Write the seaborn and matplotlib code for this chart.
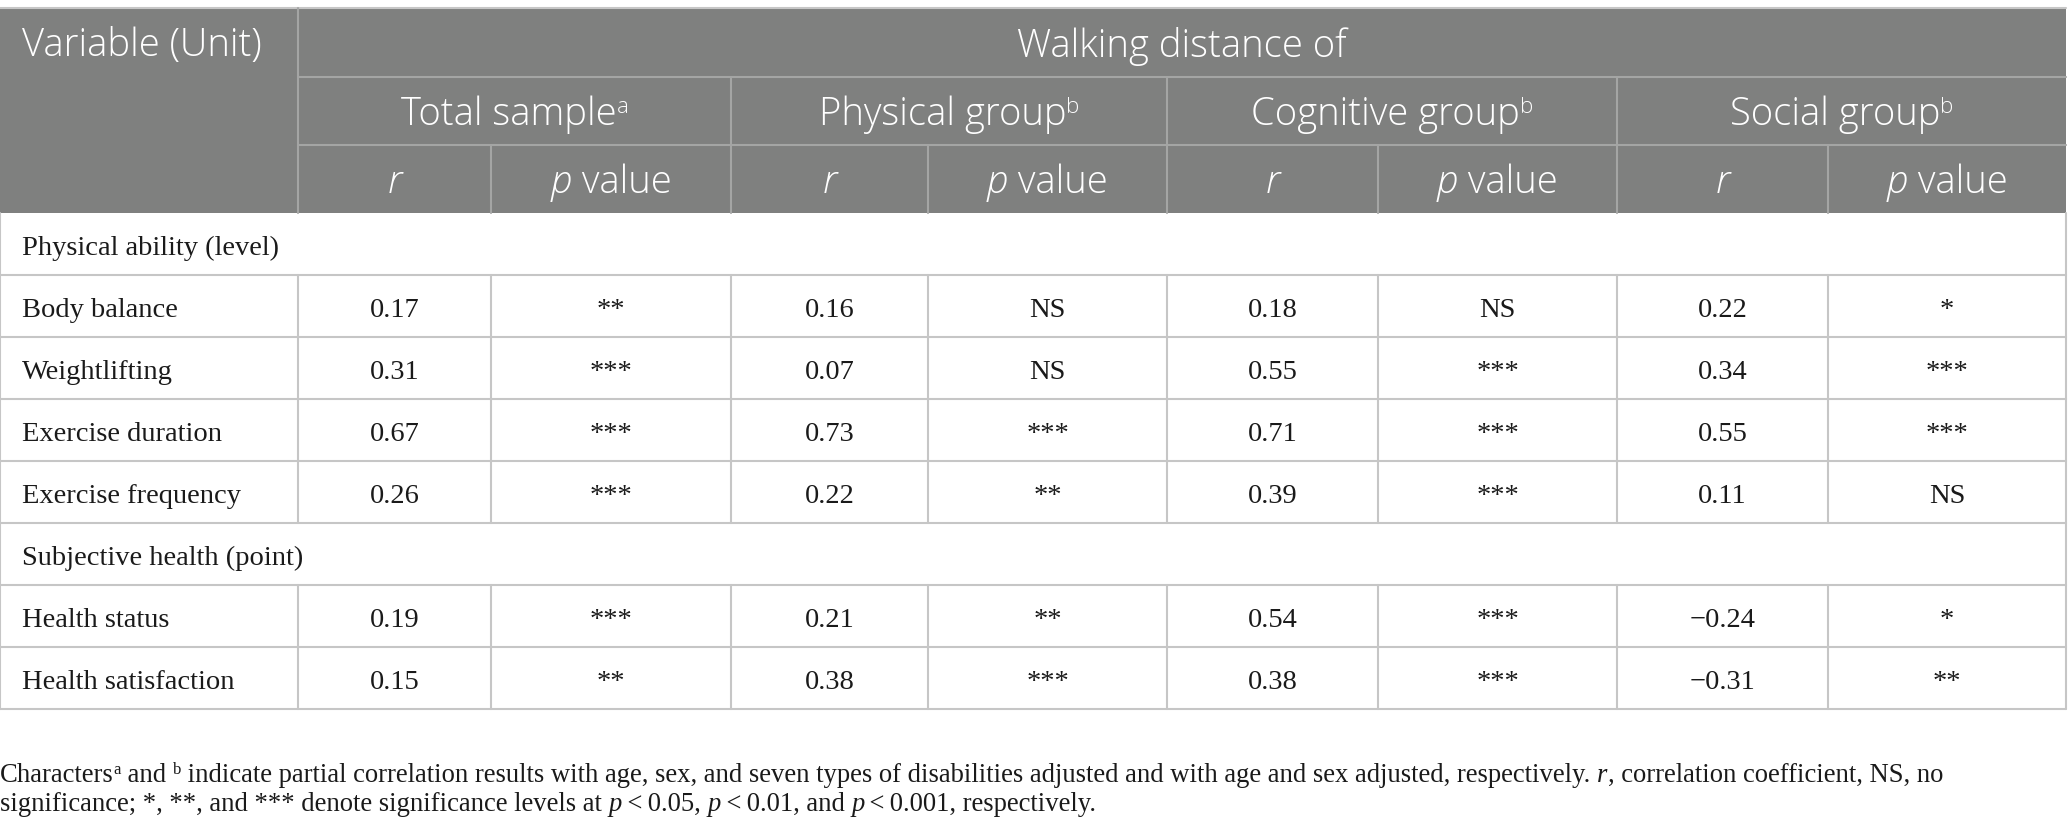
import matplotlib
matplotlib.use("Agg")
import matplotlib.pyplot as plt
import seaborn as sns
from matplotlib.patches import Rectangle

# ---------------- data ----------------
sections = ["Physical ability (level)", "Subjective health (point)"]
vars_physical = ["Body balance", "Weightlifting", "Exercise duration", "Exercise frequency"]
vars_subjective = ["Health status", "Health satisfaction"]
variables = vars_physical + vars_subjective

groups = ["Total sample", "Physical group", "Cognitive group", "Social group"]
group_sup = ["a", "b", "b", "b"]

total_r = [0.17, 0.31, 0.67, 0.26, 0.19, 0.15]
total_p = ["**", "***", "***", "***", "***", "**"]
phys_r = [0.16, 0.07, 0.73, 0.22, 0.21, 0.38]
phys_p = ["NS", "NS", "***", "**", "**", "***"]
cog_r = [0.18, 0.55, 0.71, 0.39, 0.54, 0.38]
cog_p = ["NS", "***", "***", "***", "***", "***"]
soc_r = [0.22, 0.34, 0.55, 0.11, -0.24, -0.31]
soc_p = ["*", "***", "***", "NS", "*", "**"]

r_cols = [total_r, phys_r, cog_r, soc_r]
p_cols = [total_p, phys_p, cog_p, soc_p]

# ---------------- style ----------------
sns.set_theme(style="white")
SERIF = ["Liberation Serif", "DejaVu Serif"]
SANS = ["Open Sans", "DejaVu Sans"]
plt.rcParams["font.family"] = SERIF

HEADER_BG = "#7f807f"
HEADER_LINE = "#a4a5a4"
BODY_LINE = "#c6c6c6"
TEXT = "#1a1a1a"

W, H = 2068, 830
fig = plt.figure(figsize=(W / 100, H / 100), dpi=100)
ax = fig.add_axes([0, 0, 1, 1])
ax.set_xlim(0, W)
ax.set_ylim(H, 0)
ax.axis("off")
renderer = fig.canvas.get_renderer()

# layout (pixels)
x_edges = [0, 298, 491, 731, 928, 1167, 1378, 1617, 1828, 2066]
y_top = 8
y_h1, y_h2, y_h3 = 77, 145, 213
row_h = 62
LW = 1.5

HDR = dict(family=SANS, fontsize=27.5, color="white", fontweight="light")
HDR_IT = dict(family=SANS, fontsize=27.5, color="white", style="italic", fontweight="light")
HDR_SUP = dict(family=SANS, fontsize=16, color="white", fontweight="light")
BODY = dict(family=SERIF, fontsize=20.5, color=TEXT)
FOOT = dict(family=SERIF, fontsize=19.2, color=TEXT)
FOOT_IT = dict(family=SERIF, fontsize=19.2, color=TEXT, style="italic")
FOOT_SUP = dict(family=SERIF, fontsize=12, color=TEXT)


def width(s, props):
    t1 = ax.text(0, 0, "|" + s + "|", **props)
    t2 = ax.text(0, 0, "||", **props)
    w = t1.get_window_extent(renderer).width - t2.get_window_extent(renderer).width
    t1.remove(); t2.remove()
    return w


def runs(x, y, parts, align="left"):
    """parts: list of (text, props, raise_px)"""
    ws = [width(s, p) for s, p, _ in parts]
    total = sum(ws)
    if align == "center":
        x = x - total / 2
    for (s, p, dy), w in zip(parts, ws):
        ax.text(x, y - dy, s, ha="left", va="baseline", **p)
        x += w


# ---------------- header ----------------
ax.add_patch(Rectangle((0, y_top), x_edges[-1], y_h3 - y_top, facecolor=HEADER_BG,
                       edgecolor="none", zorder=0))
ax.plot([0, x_edges[-1]], [y_top, y_top], color=BODY_LINE, lw=LW)
for yy in (y_h1, y_h2):
    ax.plot([x_edges[1], x_edges[-1]], [yy, yy], color=HEADER_LINE, lw=LW)
ax.plot([x_edges[1]] * 2, [y_top, y_h3], color=HEADER_LINE, lw=LW)
for xi in (3, 5, 7):
    ax.plot([x_edges[xi]] * 2, [y_h1, y_h3], color=HEADER_LINE, lw=LW)
for xi in (2, 4, 6, 8):
    ax.plot([x_edges[xi]] * 2, [y_h2, y_h3], color=HEADER_LINE, lw=LW)

ax.text(22, (y_top + y_h1) / 2 + 14, "Variable (Unit)", ha="left", va="baseline", **HDR)
ax.text((x_edges[1] + x_edges[-1]) / 2, (y_top + y_h1) / 2 + 14, "Walking distance of",
        ha="center", va="baseline", **HDR)
for g, (name, sup) in enumerate(zip(groups, group_sup)):
    xc = (x_edges[1 + 2 * g] + x_edges[3 + 2 * g]) / 2
    runs(xc, (y_h1 + y_h2) / 2 + 14, [(name, HDR, 0), (sup, HDR_SUP, 12)], align="center")
    xr = (x_edges[1 + 2 * g] + x_edges[2 + 2 * g]) / 2
    xp = (x_edges[2 + 2 * g] + x_edges[3 + 2 * g]) / 2
    runs(xr, (y_h2 + y_h3) / 2 + 14, [("r", HDR_IT, 0)], align="center")
    runs(xp, (y_h2 + y_h3) / 2 + 14, [("p", HDR_IT, 0), (" value", HDR, 0)], align="center")

# ---------------- body ----------------
layout_rows = [("section", sections[0])] + [("data", i) for i in range(4)] + \
              [("section", sections[1])] + [("data", i) for i in range(4, 6)]

for k, (kind, item) in enumerate(layout_rows):
    y0 = y_h3 + k * row_h
    y1 = y0 + row_h
    yb = (y0 + y1) / 2 + 11
    ax.plot([0, x_edges[-1]], [y1, y1], color=BODY_LINE, lw=LW)
    ax.plot([0, 0], [y0, y1], color=BODY_LINE, lw=LW)
    ax.plot([x_edges[-1]] * 2, [y0, y1], color=BODY_LINE, lw=LW)
    if kind == "section":
        ax.text(22, yb, item, ha="left", va="baseline", **BODY)
        continue
    i = item
    for xe in x_edges[1:-1]:
        ax.plot([xe, xe], [y0, y1], color=BODY_LINE, lw=LW)
    ax.text(22, yb, variables[i], ha="left", va="baseline", **BODY)
    for g in range(4):
        xr = (x_edges[1 + 2 * g] + x_edges[2 + 2 * g]) / 2
        xp = (x_edges[2 + 2 * g] + x_edges[3 + 2 * g]) / 2
        rv = f"{r_cols[g][i]:.2f}".replace("-", "\u2212")
        ax.text(xr, yb, rv, ha="center", va="baseline", **BODY)
        ax.text(xp, yb, p_cols[g][i], ha="center", va="baseline", **BODY)

# ---------------- footnote ----------------
runs(0, 782, [
    ("Characters", FOOT, 0), ("a", FOOT_SUP, 8),
    (" and ", FOOT, 0), ("b", FOOT_SUP, 8),
    (" indicate partial correlation results with age, sex, and seven types of disabilities "
     "adjusted and with age and sex adjusted, respectively. ", FOOT, 0),
    ("r", FOOT_IT, 0), (", correlation coefficient, NS, no", FOOT, 0),
])
runs(0, 811, [
    ("significance; *, **, and *** denote significance levels at ", FOOT, 0),
    ("p", FOOT_IT, 0), ("\u2009<\u20090.05, ", FOOT, 0),
    ("p", FOOT_IT, 0), ("\u2009<\u20090.01, and ", FOOT, 0),
    ("p", FOOT_IT, 0), ("\u2009<\u20090.001, respectively.", FOOT, 0),
])

fig.savefig("out.png", dpi=100, facecolor="white")
